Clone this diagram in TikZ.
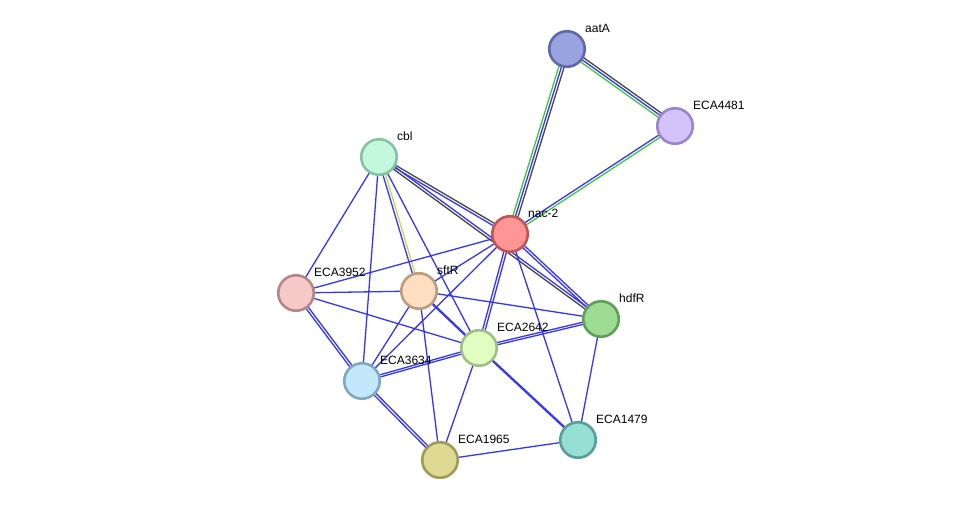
\documentclass[tikz,border=0pt]{standalone}
\usepackage{fontspec}
\setmainfont{Liberation Sans}
\usetikzlibrary{calc,backgrounds}
% edge colours
\definecolor{eblue}{HTML}{3535F5}
\definecolor{eblack}{HTML}{454545}
\definecolor{egreen}{HTML}{3CC83C}
\definecolor{eyel}{HTML}{C6D948}
% node colours
\definecolor{aatAf}{HTML}{99A3E0}\definecolor{aatAd}{HTML}{5D69A8}
\definecolor{e4481f}{HTML}{D4C3FB}\definecolor{e4481d}{HTML}{9986CC}
\definecolor{cblf}{HTML}{C3F8DD}\definecolor{cbld}{HTML}{85C3A3}
\definecolor{nacf}{HTML}{FF9595}\definecolor{nacd}{HTML}{BF5656}
\definecolor{e3952f}{HTML}{F6C8C8}\definecolor{e3952d}{HTML}{B58686}
\definecolor{sftf}{HTML}{FEDEC0}\definecolor{sftd}{HTML}{BC9C7F}
\definecolor{hdff}{HTML}{9EDC93}\definecolor{hdfd}{HTML}{5FA056}
\definecolor{e2642f}{HTML}{E1FDC2}\definecolor{e2642d}{HTML}{A2BD84}
\definecolor{e3634f}{HTML}{C3E7FB}\definecolor{e3634d}{HTML}{7FA7BE}
\definecolor{e1965f}{HTML}{DEDA93}\definecolor{e1965d}{HTML}{A19B56}
\definecolor{e1479f}{HTML}{97DED4}\definecolor{e1479d}{HTML}{58A097}
\tikzset{
  prot/.style ={circle, line width=2.6pt, minimum size=35.5pt, inner sep=0pt},
  lbl/.style  ={anchor=west, inner sep=0pt, font=\fontsize{12}{14}\selectfont},
  lnk/.style  ={line width=1.3pt, line cap=round},
}
% one line of an edge, shifted sideways by #4
\newcommand{\plink}[4]{\draw[lnk,#1] ($(#2.center)!#4!90:(#3.center)$) -- ($(#3.center)!#4!-90:(#2.center)$);}

\begin{document}
\begin{tikzpicture}[x=1pt,y=-1pt]
\useasboundingbox (0,0) rectangle (975,506);
\node[prot, draw=aatAd, fill=aatAf]   (aatA)  at (567,49)  {};
\node[prot, draw=e4481d, fill=e4481f] (e4481) at (675,126) {};
\node[prot, draw=cbld, fill=cblf]     (cbl)   at (379,157) {};
\node[prot, draw=nacd, fill=nacf]     (nac)   at (510,234) {};
\node[prot, draw=e3952d, fill=e3952f] (e3952) at (296,293) {};
\node[prot, draw=sftd, fill=sftf]     (sftR)  at (419,291) {};
\node[prot, draw=hdfd, fill=hdff]     (hdfR)  at (601,319) {};
\node[prot, draw=e2642d, fill=e2642f] (e2642) at (479,348) {};
\node[prot, draw=e3634d, fill=e3634f] (e3634) at (362,381) {};
\node[prot, draw=e1965d, fill=e1965f] (e1965) at (440,460) {};
\node[prot, draw=e1479d, fill=e1479f] (e1479) at (578,440) {};
% labels
\node[lbl] (aatA-l)  at ($(aatA)+(18,-21)$)  {aatA};
\node[lbl] (e4481-l) at ($(e4481)+(18,-21)$) {ECA4481};
\node[lbl] (cbl-l)   at ($(cbl)+(18,-21)$)   {cbl};
\node[lbl] (nac-l)   at ($(nac)+(18,-21)$)   {nac-2};
\node[lbl] (e3952-l) at ($(e3952)+(18,-21)$) {ECA3952};
\node[lbl] (sftR-l)  at ($(sftR)+(18,-21)$)  {sftR};
\node[lbl] (hdfR-l)  at ($(hdfR)+(18,-21)$)  {hdfR};
\node[lbl] (e2642-l) at ($(e2642)+(18,-21)$) {ECA2642};
\node[lbl] (e3634-l) at ($(e3634)+(18,-21)$) {ECA3634};
\node[lbl] (e1965-l) at ($(e1965)+(18,-21)$) {ECA1965};
\node[lbl] (e1479-l) at ($(e1479)+(18,-21)$) {ECA1479};
\begin{scope}[on background layer]
  % aatA / ECA4481 / nac-2 triangle
  \plink{egreen}{aatA}{nac}{-2.6pt}
  \plink{eblue}{aatA}{nac}{0pt}
  \plink{eblack}{aatA}{nac}{2.6pt}
  \plink{eblack}{aatA}{e4481}{2.6pt}
  \plink{eblue}{aatA}{e4481}{0pt}
  \plink{egreen}{aatA}{e4481}{-2.6pt}
  \plink{eblue}{e4481}{nac}{-1.3pt}
  \plink{egreen}{e4481}{nac}{1.3pt}
  % cbl
  \plink{eblue}{cbl}{nac}{-1.3pt}
  \plink{eblack}{cbl}{nac}{1.3pt}
  \plink{eblack}{cbl}{hdfR}{-1.3pt}
  \plink{eblue}{cbl}{hdfR}{1.3pt}
  \plink{eyel}{cbl}{sftR}{1.3pt}
  \plink{eblue}{cbl}{sftR}{-1.3pt}
  \plink{eblue}{cbl}{e3952}{0pt}
  \plink{eblue}{cbl}{e3634}{0pt}
  \plink{eblue}{cbl}{e2642}{0pt}
  % nac-2
  \plink{eblue}{nac}{hdfR}{-1.3pt}
  \plink{eblue}{nac}{hdfR}{1.3pt}
  \plink{eblue}{nac}{e2642}{-1.3pt}
  \plink{eblue}{nac}{e2642}{1.3pt}
  \plink{eblue}{nac}{e3952}{0pt}
  \plink{eblue}{nac}{sftR}{0pt}
  \plink{eblue}{nac}{e3634}{0pt}
  \plink{eblue}{nac}{e1479}{0pt}
  % sftR
  \plink{eblue}{sftR}{e3952}{0pt}
  \plink{eblue}{sftR}{hdfR}{0pt}
  \plink{eblue}{sftR}{e3634}{0pt}
  \plink{eblue}{sftR}{e1965}{0pt}
  \plink{eblue}{sftR}{e2642}{-0.5pt}
  \plink{eblue}{sftR}{e2642}{0.5pt}
  % ECA3952
  \plink{eblue}{e3952}{e2642}{0pt}
  \plink{eblue}{e3952}{e3634}{-1.3pt}
  \plink{eblue}{e3952}{e3634}{1.3pt}
  % ECA3634
  \plink{eblue}{e3634}{e1965}{-1.3pt}
  \plink{eblue}{e3634}{e1965}{1.3pt}
  \plink{eblue}{e3634}{e2642}{-1.1pt}
  \plink{eblue}{e3634}{e2642}{1.1pt}
  % ECA2642
  \plink{eblue}{e2642}{hdfR}{-1.1pt}
  \plink{eblue}{e2642}{hdfR}{1.1pt}
  \plink{eblue}{e2642}{e1479}{-0.5pt}
  \plink{eblue}{e2642}{e1479}{0.5pt}
  \plink{eblue}{e2642}{e1965}{0pt}
  % rest
  \plink{eblue}{hdfR}{e1479}{0pt}
  \plink{eblue}{e1965}{e1479}{0pt}
\end{scope}
\end{tikzpicture}
\end{document}
